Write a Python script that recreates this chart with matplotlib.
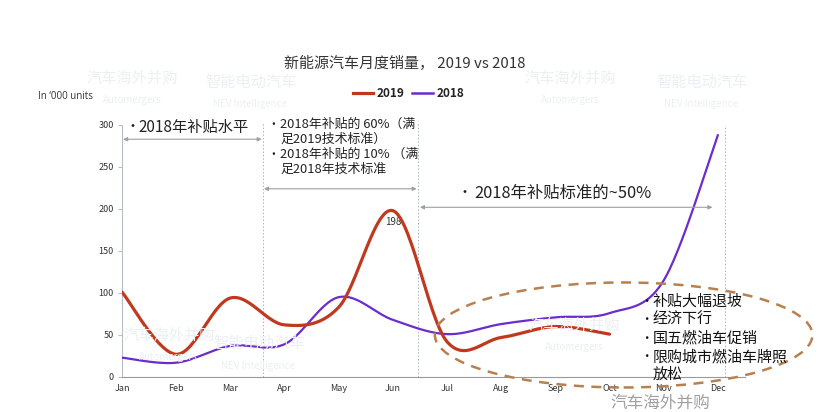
import numpy as np
import matplotlib
matplotlib.use('Agg')
import matplotlib.pyplot as plt
from matplotlib.patches import Ellipse

plt.rcParams['font.family'] = ['Noto Sans CJK SC', 'DejaVu Sans']

months = ['Jan', 'Feb', 'Mar', 'Apr', 'May', 'Jun', 'Jul', 'Aug', 'Sep', 'Oct', 'Nov', 'Dec']
sales_2019 = [101, 27, 94, 62, 83, 198, 42, 47, 60, 51]
sales_2018 = [23, 17, 37, 39, 95, 68, 51, 63, 71, 76, 115, 288]
reasons = ['补贴大幅退坡', '经济下行', '国五燃油车促销', '限购城市燃油车牌照']

RED = '#c0391f'
PURPLE = '#6a2ccc'
GRID = '#b8bcc4'


def smooth(xs, ys, n=30):
    # excel-style bezier smoothing through the points
    p = np.column_stack([xs, ys]).astype(float)
    p = np.vstack([p[0], p, p[-1]])
    out = []
    for i in range(1, len(p) - 2):
        p0, p3 = p[i], p[i + 1]
        c1 = p0 + (p[i + 1] - p[i - 1]) / 6
        c2 = p3 - (p[i + 2] - p[i]) / 6
        t = np.linspace(0, 1, n)[:, None]
        seg = (1 - t) ** 3 * p0 + 3 * (1 - t) ** 2 * t * c1 + 3 * (1 - t) * t ** 2 * c2 + t ** 3 * p3
        out.append(seg if i == 1 else seg[1:])
    out = np.vstack(out)
    return out[:, 0], out[:, 1]


fig = plt.figure(figsize=(8.2, 4.12), dpi=100)
ax = fig.add_axes([0.1488, 0.085, 0.7597, 0.6117])

# faint watermarks
wm = '#eceff3'
for (x, y) in [(0.105, 0.80), (0.64, 0.80), (0.15, 0.175), (0.645, 0.20)]:
    fig.text(x, y, '汽车海外并购', fontsize=11, color=wm, zorder=0)
    fig.text(x + 0.02, y - 0.05, 'Automergers', fontsize=7, color=wm, zorder=0)
for (x, y) in [(0.25, 0.79), (0.80, 0.79), (0.26, 0.155)]:
    fig.text(x, y, '智能电动汽车', fontsize=11, color=wm, zorder=0)
    fig.text(x + 0.01, y - 0.05, 'NEV Intelligence', fontsize=7, color=wm, zorder=0)

x19, y19 = smooth(np.arange(len(sales_2019)), sales_2019)
x18, y18 = smooth(np.arange(len(sales_2018)), sales_2018)
ax.plot(x18, y18, color=PURPLE, lw=1.6, solid_capstyle='round', zorder=3)
ax.plot(x19, y19, color=RED, lw=2.3, solid_capstyle='round', zorder=4)

ax.set_xlim(0, 11.5)
ax.set_ylim(0, 300)
ax.set_xticks(range(len(months)))
ax.set_xticklabels(months)
ax.set_yticks([0, 50, 100, 150, 200, 250, 300])
ax.tick_params(axis='x', length=0, labelsize=6.5, colors='#333333', pad=5)
ax.tick_params(axis='y', length=3, labelsize=6.5, colors='#333333', color=GRID, pad=3)
for s in ['top', 'right']:
    ax.spines[s].set_visible(False)
ax.spines['left'].set_color(GRID)
ax.spines['bottom'].set_color('#999999')
ax.patch.set_alpha(0)

# policy period dividers
for xd, ytop in [(2.6, 304), (5.46, 304), (11.13, 300)]:
    ax.plot([xd, xd], [0, ytop], color='#a8b4c4', lw=0.7, ls=(0, (1.5, 2)), zorder=1, clip_on=False)

arrow = dict(arrowstyle='<|-|>', color='#a0a0a0', lw=0.8, mutation_scale=6, shrinkA=0, shrinkB=0)
ax.annotate('', xy=(0.02, 283), xytext=(2.58, 283), arrowprops=arrow)
ax.annotate('', xy=(2.62, 224), xytext=(5.44, 224), arrowprops=arrow)
ax.annotate('', xy=(5.5, 202), xytext=(10.9, 202), arrowprops=arrow)

ax.text(0.07, 297, '•', fontsize=10, color='#222222', va='center')
ax.text(0.3, 297, '2018年补贴水平', fontsize=11, color='#222222', va='center')

block = [('•', '2018年补贴的 60%（满'), ('', '足2019技术标准）'),
         ('•', '2018年补贴的 10% （满'), ('', '足2018年技术标准')]
for k, (b, line) in enumerate(block):
    yy = 301 - k * 18
    if b:
        ax.text(2.68, yy, b, fontsize=8.5, color='#222222', va='center')
    ax.text(2.92, yy, line, fontsize=9.3, color='#222222', va='center')

ax.text(6.2, 219, '•', fontsize=10, color='#222222', va='center')
ax.text(6.5, 219, '2018年补贴标准的~50%', fontsize=11.8, color='#222222', va='center')

ax.annotate('198', xy=(5, 198), xytext=(0, -8), textcoords='offset points',
            ha='center', va='center', fontsize=7, color='#333333')

ax.add_patch(Ellipse((9.26, 50), 6.97, 125, fill=False, ec='#b8804f', lw=1.8,
                     ls=(0, (4, 3)), clip_on=False, zorder=5))

for k, r in enumerate(reasons):
    yy = 90 - k * 22
    ax.text(9.56, yy, '•', fontsize=9, color='#111111', va='center', zorder=6)
    ax.text(9.8, yy, r, fontsize=10.8, color='#111111', va='center', zorder=6)
ax.text(9.8, 3, '放松', fontsize=10.8, color='#111111', va='center', zorder=6, clip_on=False)

fig.text(0.805, 0.022, '汽车海外并购', fontsize=12, color='#a0a0a0', ha='center', va='center')

# title, unit and legend
fig.text(0.494, 0.847, '新能源汽车月度销量， 2019 vs 2018', fontsize=10.8, color='#333333', ha='center', va='center')
fig.text(0.046, 0.765, 'In \u2018000 units', fontsize=7, color='#333333', va='center', family=['Open Sans'])
ly = 0.774
fig.add_artist(plt.Line2D([0.43, 0.455], [ly, ly], color=RED, lw=2.3))
fig.text(0.459, ly, '2019', fontsize=8.5, fontweight='bold', color='#222222', va='center')
fig.add_artist(plt.Line2D([0.503, 0.528], [ly, ly], color=PURPLE, lw=1.8))
fig.text(0.532, ly, '2018', fontsize=8.5, fontweight='bold', color='#222222', va='center')

fig.savefig('out.png', dpi=100)
